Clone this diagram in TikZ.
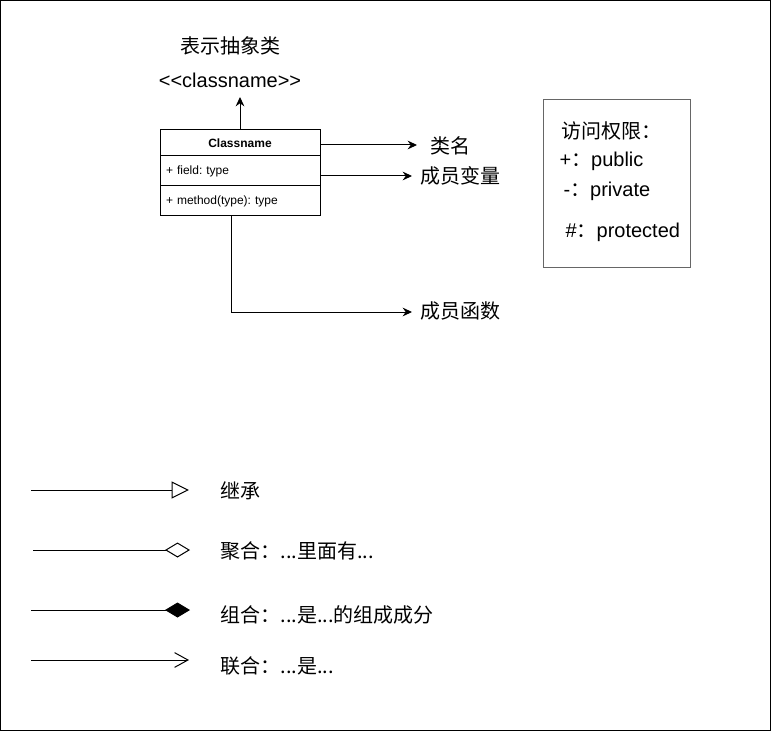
\documentclass[tikz,border=0pt]{standalone}
\usepackage{fontspec}
\setmainfont{Liberation Sans}
\newfontfamily\latin{Liberation Sans}
\newfontfamily\cjk{Noto Sans CJK SC}
\usetikzlibrary{arrows.meta,positioning}
\frenchspacing

\begin{document}
\begin{tikzpicture}
  [x=0.75pt, y=-0.75pt, line width=0.75pt,
   note/.style={font=\cjk\fontsize{15}{18}\selectfont, inner sep=0pt},
   plain/.style={font=\latin\fontsize{15}{18}\selectfont, inner sep=0pt},
   cell/.style={draw=black, text width=111pt, inner xsep=4.5pt, inner ysep=0pt, outer sep=0pt,
                align=left, font=\fontsize{9}{11}\selectfont},
   pointer/.style={-{Stealth[length=7pt, width=6.5pt]}}]

  \useasboundingbox (0,0) rectangle (771,731);
  \draw (0.5,0.5) rectangle (770.5,730.5);

  % class box
  \node[cell, minimum height=19.5pt, align=center, font=\bfseries\fontsize{9}{11}\selectfont] (cls) at (240,143) {Classname};
  \node[cell, minimum height=22.5pt, below=0pt of cls] (fld) {+ field: type};
  \node[cell, minimum height=22.5pt, below=0pt of fld] (mth) {+ method(type): type};

  \node[plain] (stereo) at (230,80) {<<classname>>};
  \node[note] (abs) at (230,46) {表示抽象类};
  \node[note, anchor=west] (name) at (430,146) {类名};
  \node[note, anchor=west] (vars) at (420,176) {成员变量};
  \node[note, anchor=west] (funs) at (420,311) {成员函数};

  \coordinate (stereoTip) at (240,97);
  \coordinate (nameTip) at (417,145);
  \coordinate (varsTip) at (412,176);
  \coordinate (funsTip) at (412,312);

  \draw[pointer] (cls.north) -- (stereoTip);
  \draw[pointer] (cls.east |- nameTip) -- (nameTip);
  \draw[pointer] (fld.east |- varsTip) -- (varsTip);
  \draw[pointer] ([xshift=-6.75pt]mth.south) |- (funsTip);

  % access rights
  \node[draw=black!60, minimum width=110.25pt, minimum height=125.25pt, inner sep=0pt] (acc) at (616.5,183.5) {};
  \node[note, anchor=west] (accT) at (561,131) {访问权限：};
  \node[plain, anchor=west] (pub) at (559,161) {+{\cjk ：}public};
  \node[plain, anchor=west] (pri) at (563,191) {-{\cjk ：}private};
  \node[plain, anchor=west] (pro) at (565,232) {\#{\cjk ：}protected};

  % legend
  \coordinate (inhS) at (31,490);  \coordinate (inhE) at (189,490);
  \coordinate (aggS) at (33,550);  \coordinate (aggE) at (190,550);
  \coordinate (comS) at (31,610);  \coordinate (comE) at (190,610);
  \coordinate (assS) at (31,660);  \coordinate (assE) at (189,660);

  \draw[-{Triangle[open, length=13pt, width=12.75pt]}] (inhS) -- (inhE);
  \draw[-{Diamond[open, length=18.75pt, width=11.25pt]}] (aggS) -- (aggE);
  \draw[-{Diamond[length=18.75pt, width=11.25pt]}] (comS) -- (comE);
  \draw[-{Straight Barb[length=10pt, width=11pt]}] (assS) -- (assE);

  \node[note, anchor=west] (inhL) at (220,491) {继承};
  \node[note, anchor=west] (aggL) at (220,551) {聚合：...里面有...};
  \node[note, anchor=west] (comL) at (220,615) {组合：...是...的组成成分};
  \node[note, anchor=west] (assL) at (220,666) {联合：...是...};
\end{tikzpicture}
\end{document}
